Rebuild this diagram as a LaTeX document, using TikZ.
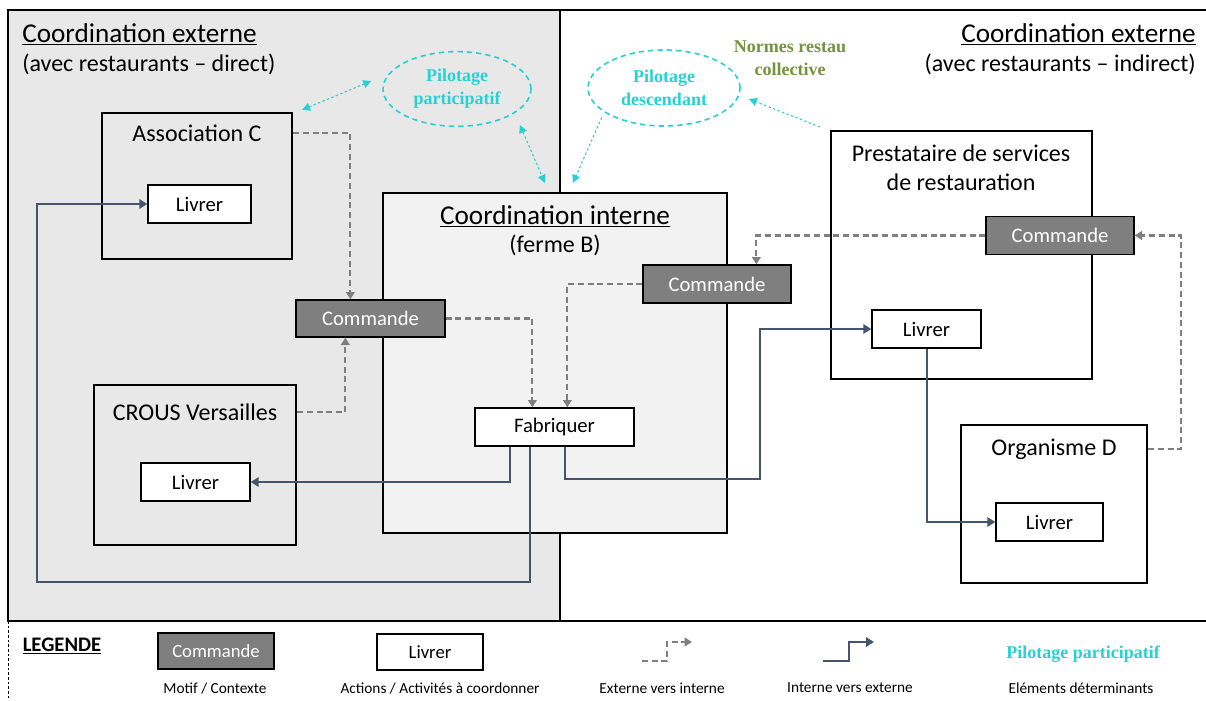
\documentclass[tikz,border=0pt]{standalone}
\usepackage{fontspec}
\setmainfont{Carlito}
\newfontfamily\tnr{Liberation Serif}
\usetikzlibrary{shapes.geometric,arrows.meta,calc}
\definecolor{panelgray}{HTML}{E8E8E8}
\definecolor{internfill}{HTML}{F2F2F2}
\definecolor{cmdgray}{HTML}{7F7F7F}
\definecolor{extgray}{HTML}{7F7F7F}
\definecolor{intblue}{HTML}{44546A}
\definecolor{cyanc}{RGB}{40,208,212}
\definecolor{greenc}{HTML}{76923C}
\newcommand\fsTitle{\fontsize{20.4}{24}\selectfont}
\newcommand\fsLab{\fontsize{18}{21.75}\selectfont}
\newcommand\fsBox{\fontsize{15.5}{18}\selectfont}
\newcommand\fsPil{\fontsize{13.5}{17.25}\selectfont}
\newcommand\fsCap{\fontsize{11.5}{13}\selectfont}
\newcommand\fsLeg{\fontsize{14}{16}\selectfont}
\begin{document}
\begin{tikzpicture}[x=0.75pt,y=-0.75pt,
  bigbox/.style={draw=black, line width=1.6pt, inner sep=0pt},
  cmdbox/.style={draw=black, line width=1pt, fill=cmdgray, text=white, minimum width=111pt, minimum height=28.5pt, inner sep=0pt, font=\fsBox},
  actbox/.style={draw=black, line width=1pt, fill=white, minimum height=28.5pt, inner sep=0pt, font=\fsBox},
  lbl/.style={inner sep=0pt, font=\fsLab},
  pil/.style={ellipse, draw=cyanc, line width=1.2pt, dash pattern=on 4pt off 3pt, text=cyanc, font=\tnr\bfseries\fsPil, align=center, inner sep=0pt},
  ext/.style={draw=extgray, line width=1.6pt, dash pattern=on 4.5pt off 2.8pt, -{Triangle[width=6.5pt,length=5.5pt]}},
  intl/.style={draw=intblue, line width=1.5pt, -{Triangle[width=7pt,length=6pt]}},
  cyone/.style={draw=cyanc, line width=0.8pt, dash pattern=on 1.8pt off 1.8pt, -{Triangle[width=6pt,length=6pt]}},
  cyboth/.style={draw=cyanc, line width=0.8pt, dash pattern=on 1.8pt off 1.8pt, {Triangle[width=6pt,length=6pt]}-{Triangle[width=6pt,length=6pt]}},
  captxt/.style={inner sep=0pt, font=\fsCap}
]
\useasboundingbox (0,0) rectangle (1206,700);
% panels
\fill[panelgray] (8,10) rectangle (560,621);
\draw[line width=1.8pt] (1206,10) -- (8,10) -- (8,621) -- (1206,621);
\draw[line width=1.8pt] (560,10) -- (560,621);
\draw[line width=0.6pt, dash pattern=on 2pt off 1.5pt] (8,621) -- (8,700);

% titles
\node[lbl, font=\fsTitle, anchor=west] (tL) at (22,34) {\underline{Coordination externe}};
\node[lbl, anchor=west] (sL) at (22,64) {(avec restaurants – direct)};
\node[lbl, font=\fsTitle, anchor=east] (tR) at (1196,34) {\underline{Coordination externe}};
\node[lbl, anchor=east] (sR) at (1196,64) {(avec restaurants – indirect)};

% big boxes
\node[bigbox, minimum width=142.5pt, minimum height=109.5pt] (assoc) at (197,186) {};
\node[lbl] (assocT) at (197,133) {Association C};
\node[bigbox, minimum width=151.5pt, minimum height=120pt] (crous) at (195,465) {};
\node[lbl] (crousT) at (195,412) {CROUS Versailles};
\node[bigbox, fill=internfill, minimum width=258pt, minimum height=255pt] (interne) at (555,363) {};
\node[lbl, font=\fsTitle] (interneT) at (555,216) {\underline{Coordination interne}};
\node[lbl] (interneS) at (555,245) {(ferme B)};
\node[bigbox, minimum width=195.75pt, minimum height=186pt] (prest) at (961.5,255) {};
\node[lbl, align=center] (prestT) at (961,168) {Prestataire de services\\de restauration};
\node[bigbox, minimum width=139.5pt, minimum height=118.5pt] (orgD) at (1054,504) {};
\node[lbl] (orgDT) at (1054,449) {Organisme D};

% small boxes
\node[actbox, minimum width=77.25pt] (assocL) at (199.5,204) {Livrer};
\node[actbox, minimum width=81.75pt] (crousL) at (195.5,482) {Livrer};
\node[cmdbox, minimum width=111.75pt, minimum height=27.75pt] (cmdL) at (370.5,318.5) {Commande};
\node[cmdbox] (cmdM) at (717,284) {Commande};
\node[actbox, minimum width=119.25pt] (fab) at (554.5,427) {Fabriquer};
\node[cmdbox] (cmdR) at (1060,235.5) {Commande};
\node[actbox, minimum width=81.75pt] (prestL) at (926.5,329) {Livrer};
\node[actbox, minimum width=80.25pt] (orgL) at (1049.5,522) {Livrer};

% ellipses and texts
\node[pil, minimum width=111pt, minimum height=56pt] (pp) at (457,89) {Pilotage\\participatif};
\node[pil, minimum width=114pt, minimum height=57pt] (pd) at (664,88) {Pilotage\\descendant};
\node[font=\tnr\bfseries\fsPil, text=greenc, align=center, inner sep=0pt] (normes) at (790,58) {Normes restau\\collective};

% external -> internal (dashed)
\draw[ext] (assoc.east |- assocT) -| ($(cmdL.north west)+(55,0)$);
\draw[ext] (crous.east |- crousT) -| ($(cmdL.south west)+(50,0)$);
\draw[ext] (cmdL.east) -| ($(fab.north west)+(58,0)$);
\draw[ext] (cmdM.west) -| ($(fab.north west)+(93,0)$);
\draw[ext] (cmdR.west) -| ($(cmdM.north west)+(114,0)$);
\draw[ext] (orgD.east |- orgDT) -- ++(33,0) |- (cmdR.east);

% internal -> external (solid)
\coordinate (lb) at (37,582);
\coordinate (rb) at (760,479);
\draw[intl] ($(fab.south west)+(36,0)$) |- (crousL.east);
\draw[intl] ($(fab.south west)+(56,0)$) |- (lb) |- (assocL.west);
\draw[intl] ($(fab.south west)+(91,0)$) |- (rb) |- (prestL.west);
\draw[intl] (prestL.south) |- (orgL.west);

% cyan dotted arrows
\draw[cyboth] ($(assoc.north east)+(9,-2)$) -- ($(pp.west)+(-11,-8)$);
\draw[cyboth] ($(pp.south east)+(10,9)$) -- ($(interne.north west)+(163,-9)$);
\draw[cyone] ($(pd.south west)+(-8,2)$) -- ($(interne.north west)+(191,-9)$);
\draw[cyone] ($(prest.north west)+(-10,-3)$) -- ($(pd.east)+(8,11)$);

% legend
\node[inner sep=0pt, font=\fontsize{15.5}{18}\selectfont\bfseries] (legT) at (62,646) {\underline{LEGENDE}};
\node[cmdbox, font=\fsLeg, minimum width=87pt, minimum height=27pt] (legC) at (216,651) {Commande};
\node[actbox, font=\fsLeg, minimum width=79.5pt, minimum height=27pt] (legL) at (430,652) {Livrer};
\coordinate (e1) at (642,661);
\coordinate (e2) at (667,661);
\coordinate (e3) at (667,642);
\coordinate (e4) at (692,642);
\draw[ext] (e1) -- (e2) -- (e3) -- (e4);
\coordinate (i1) at (823,661);
\coordinate (i2) at (849,661);
\coordinate (i3) at (849,642);
\coordinate (i4) at (874,642);
\draw[intl] (i1) -- (i2) -- (i3) -- (i4);
\node[inner sep=0pt, font=\tnr\bfseries\fsPil, text=cyanc] (legP) at (1083,654) {Pilotage participatif};
\node[captxt] (c1) at (215,688) {Motif / Contexte};
\node[captxt] (c2) at (440,688) {Actions / Activités à coordonner};
\node[captxt] (c3) at (662,688) {Externe vers interne};
\node[captxt] (c4) at (850,688) {Interne vers externe};
\node[captxt] (c5) at (1081,688) {Eléments déterminants};
\end{tikzpicture}
\end{document}
